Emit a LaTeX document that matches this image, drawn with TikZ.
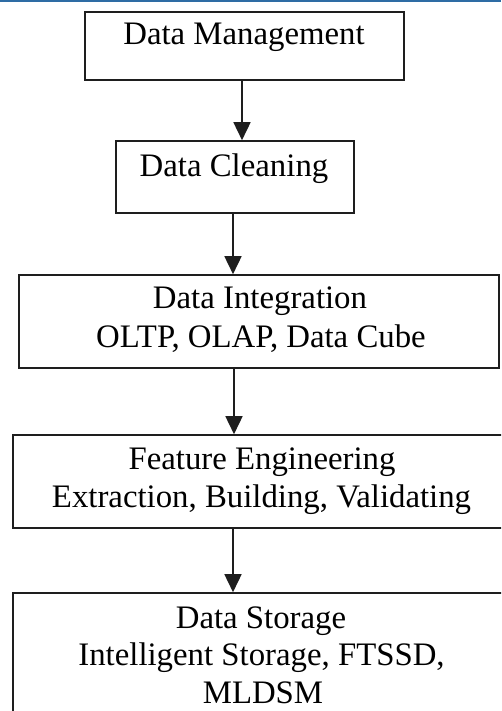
\documentclass[tikz,border=0pt]{standalone}
\usepackage{fontspec}
\setmainfont{Liberation Serif}
\usetikzlibrary{arrows.meta}
\definecolor{topblue}{RGB}{46,108,164}
\definecolor{edge}{RGB}{30,30,30}
\begin{document}
\begin{tikzpicture}[x=1pt,y=-1pt,
  box/.style={draw=edge,line width=1.6pt,rectangle,inner sep=0pt},
  lbl/.style={anchor=base,inner sep=0pt,font=\fontsize{32.8}{38}\selectfont},
  arr/.style={draw=edge,line width=1.6pt,-{Triangle[width=17pt,length=18pt]}}]
\useasboundingbox (0,0) rectangle (501,711);
\clip (0,0) rectangle (501,711);
\fill[white] (0,0) rectangle (501,711);
\fill[topblue] (0,0) rectangle (501,2.2);
% boxes
\node[box,minimum width=319pt,minimum height=68pt] (b1) at (244.5,46) {};
\node[box,minimum width=238pt,minimum height=72pt] (b2) at (235,177) {};
\node[box,minimum width=480pt,minimum height=93pt] (b3) at (259,321.5) {};
\node[box,minimum width=530pt,minimum height=93pt] (b4) at (278,481.5) {};
\node[box,minimum width=530pt,minimum height=166pt] (b5) at (278,676) {};
% labels
\node[lbl] (t1) at (244,45) {Data Management};
\node[lbl] (t2) at (234,177) {Data Cleaning};
\node[lbl] (t3a) at (260,308) {Data Integration};
\node[lbl] (t3b) at (261,347) {OLTP, OLAP, Data Cube};
\node[lbl] (t4a) at (262,469) {Feature Engineering};
\node[lbl] (t4b) at (261.5,507) {Extraction, Building, Validating};
\node[lbl] (t5a) at (261,628) {Data Storage};
\node[lbl] (t5b) at (261.5,665) {Intelligent Storage, FTSSD,};
\node[lbl] (t5c) at (263,703) {MLDSM};
% arrows
\coordinate (x1) at (242,0);
\coordinate (x2) at (233,0);
\coordinate (x3) at (234,0);
\coordinate (x4) at (233,0);
\draw[arr] (b1.south -| x1) -- (b2.north -| x1);
\draw[arr] (b2.south -| x2) -- (b3.north -| x2);
\draw[arr] (b3.south -| x3) -- (b4.north -| x3);
\draw[arr] (b4.south -| x4) -- (b5.north -| x4);
\end{tikzpicture}
\end{document}
